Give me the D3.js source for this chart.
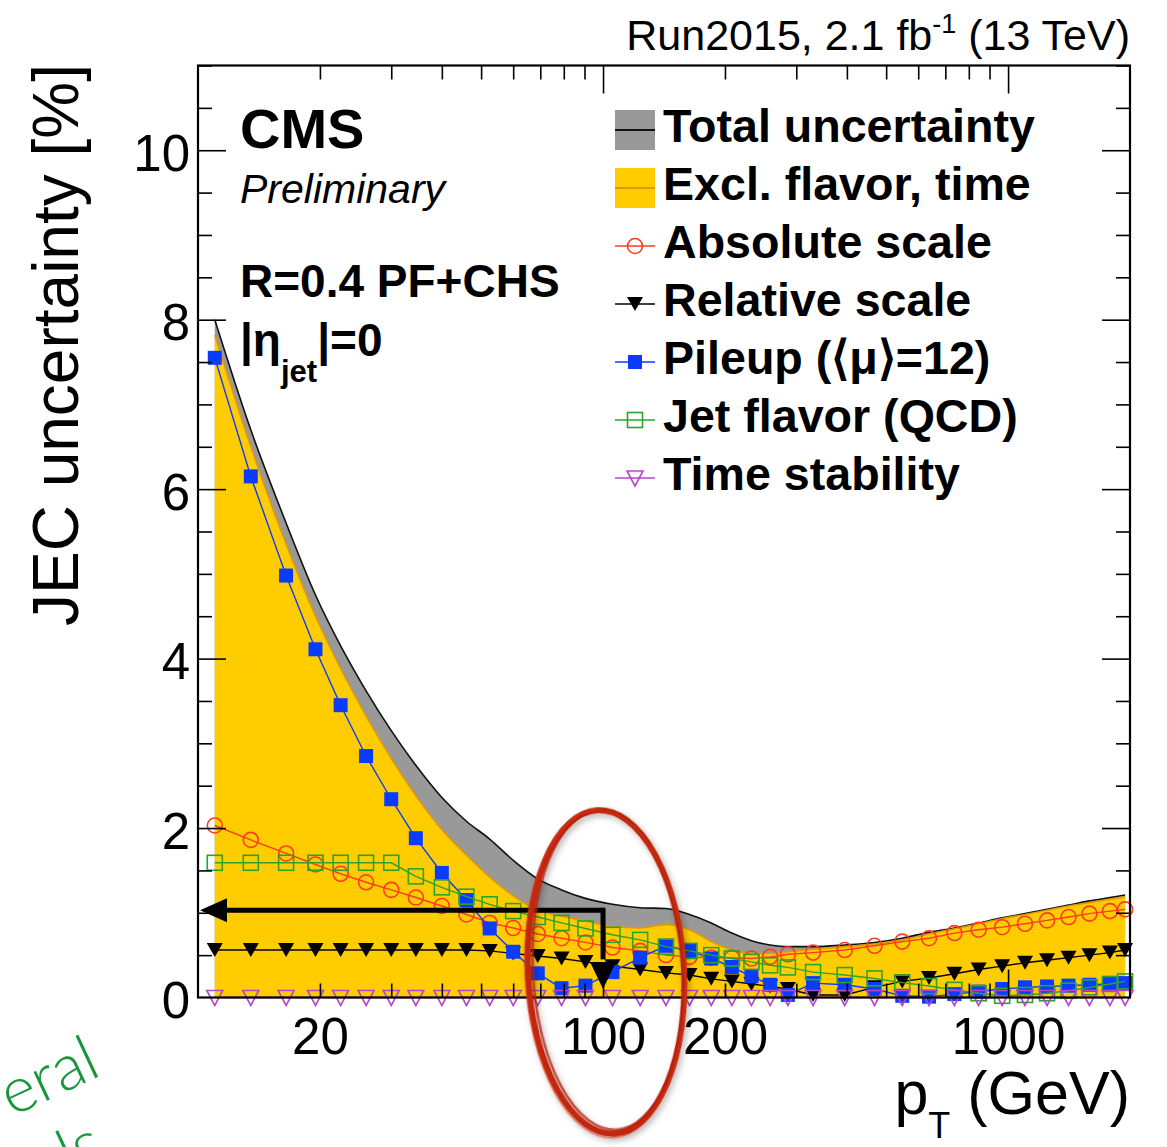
<!DOCTYPE html>
<html><head><meta charset="utf-8">
<script src="https://cdn.jsdelivr.net/npm/d3@7"></script>
<style>body{margin:0;background:#fff} svg{display:block}</style>
</head><body>
<svg id="chart" width="1167" height="1147"></svg>
<script>
// ---------------- data ----------------
const ptBins = [11, 13.5, 16.5, 19.5, 22.5, 26, 30, 34.5, 40, 46, 52.5, 60, 69, 79, 90.5, 105.5, 123.5, 143, 163.5, 185, 208, 232.5, 258.5, 286, 330, 395, 468, 548, 638, 737, 846, 967, 1101, 1248, 1410, 1588, 1784, 1945];
const totalUncertainty = [8.00, 6.70, 5.60, 4.75, 4.15, 3.62, 3.15, 2.74, 2.36, 2.08, 1.87, 1.62, 1.40, 1.27, 1.17, 1.10, 1.06, 1.05, 0.98, 0.88, 0.76, 0.67, 0.62, 0.60, 0.60, 0.62, 0.65, 0.70, 0.77, 0.82, 0.88, 0.94, 0.99, 1.04, 1.09, 1.14, 1.18, 1.21];
const exclFlavorTime = [7.82, 6.50, 5.35, 4.50, 3.88, 3.32, 2.82, 2.38, 1.98, 1.68, 1.42, 1.20, 1.03, 0.96, 0.90, 0.84, 0.82, 0.86, 0.80, 0.66, 0.56, 0.52, 0.52, 0.54, 0.57, 0.60, 0.63, 0.68, 0.75, 0.81, 0.87, 0.93, 0.98, 1.03, 1.08, 1.12, 1.16, 1.19];
const absoluteScale = [2.03, 1.86, 1.70, 1.57, 1.46, 1.36, 1.27, 1.18, 1.08, 0.98, 0.88, 0.82, 0.75, 0.70, 0.65, 0.59, 0.55, 0.50, 0.48, 0.47, 0.47, 0.46, 0.48, 0.51, 0.53, 0.56, 0.61, 0.66, 0.70, 0.76, 0.80, 0.83, 0.87, 0.91, 0.95, 0.99, 1.02, 1.04];
const relativeScale = [0.56, 0.56, 0.56, 0.56, 0.56, 0.56, 0.56, 0.56, 0.56, 0.56, 0.55, 0.52, 0.49, 0.46, 0.42, 0.37, 0.33, 0.29, 0.265, 0.22, 0.19, 0.16, 0.13, 0.10, 0.03, 0.03, 0.12, 0.19, 0.23, 0.28, 0.33, 0.37, 0.41, 0.44, 0.47, 0.50, 0.53, 0.56];
const pileup = [7.55, 6.15, 4.98, 4.11, 3.45, 2.85, 2.34, 1.88, 1.47, 1.15, 0.815, 0.54, 0.285, 0.11, 0.14, 0.30, 0.47, 0.61, 0.55, 0.46, 0.36, 0.25, 0.15, 0.03, 0.17, 0.15, 0.10, 0.02, 0.01, 0.04, 0.07, 0.10, 0.12, 0.13, 0.14, 0.15, 0.16, 0.17];
const jetFlavor = [1.59, 1.59, 1.59, 1.59, 1.59, 1.59, 1.59, 1.43, 1.30, 1.19, 1.10, 1.02, 0.95, 0.88, 0.815, 0.74, 0.68, 0.60, 0.55, 0.50, 0.46, 0.42, 0.38, 0.355, 0.30, 0.265, 0.225, 0.175, 0.135, 0.09, 0.05, 0.02, 0.03, 0.05, 0.08, 0.12, 0.16, 0.19];
const timeStability = [0.0, 0.0, 0.0, 0.0, 0.0, 0.0, 0.0, 0.0, 0.0, 0.0, 0.0, 0.0, 0.0, 0.0, 0.0, 0.0, 0.0, 0.0, 0.0, 0.0, 0.0, 0.0, 0.0, 0.0, 0.0, 0.0, 0.0, 0.0, 0.0, 0.0, 0.0, 0.0, 0.0, 0.0, 0.0, 0.0, 0.0, 0.0];
const xTickLabels = [20, 100, 200, 1000];
const yTickLabels = [0, 2, 4, 6, 8, 10];
const legendLabels = ["Total uncertainty", "Excl. flavor, time", "Absolute scale", "Relative scale", "Pileup (\u27E8\u03BC\u27E9=12)", "Jet flavor (QCD)", "Time stability"];

// ---------------- setup ----------------
const FONT = "'Liberation Sans', Arial, Helvetica, sans-serif";
const svg = d3.select("#chart");
svg.append("rect").attr("width", 1167).attr("height", 1147).attr("fill", "#fff");
const x = d3.scaleLog().domain([10, 2000]).range([198, 1130]);
const y = d3.scaleLinear().domain([0, 11]).range([997.5, 65.5]);

const C = {
  gray: "#999999", yellow: "#ffcc00", orange: "#e39a00",
  red: "#ff3b20", black: "#000000", blue: "#0a3cff", green: "#2aa52a", magenta: "#b04ac8"
};

// ---------------- bands ----------------
const band = d3.area().x((d, i) => x(ptBins[i])).y0(y(0)).y1(d => y(d)).curve(d3.curveMonotoneX);
const bandTop = d3.line().x((d, i) => x(ptBins[i])).y(d => y(d)).curve(d3.curveMonotoneX);
svg.append("path").attr("d", band(totalUncertainty)).attr("fill", C.gray);
svg.append("path").attr("d", bandTop(totalUncertainty)).attr("fill", "none").attr("stroke", "#111").attr("stroke-width", 1.6);
svg.append("path").attr("d", band(exclFlavorTime)).attr("fill", C.yellow);
svg.append("path").attr("d", bandTop(exclFlavorTime)).attr("fill", "none").attr("stroke", C.orange).attr("stroke-width", 1.6);

// ---------------- markers ----------------
function marker(g, type, color) {
  if (type === "circle") g.append("circle").attr("r", 7.5).attr("fill", "none").attr("stroke", color).attr("stroke-width", 1.6);
  else if (type === "triDownFilled") g.append("path").attr("d", "M-8,-7L8,-7L0,7Z").attr("fill", color);
  else if (type === "squareFilled") g.append("rect").attr("x", -7).attr("y", -7).attr("width", 14).attr("height", 14).attr("fill", color);
  else if (type === "squareOpen") g.append("rect").attr("x", -7.5).attr("y", -7.5).attr("width", 15).attr("height", 15).attr("fill", "none").attr("stroke", color).attr("stroke-width", 1.6);
  else if (type === "triDownOpen") g.append("path").attr("d", "M-8,-7L8,-7L0,8Z").attr("fill", "none").attr("stroke", color).attr("stroke-width", 1.6);
}

const seriesList = [
  { values: absoluteScale, color: C.red, type: "circle" },
  { values: relativeScale, color: C.black, type: "triDownFilled" },
  { values: pileup, color: C.blue, type: "squareFilled" },
  { values: jetFlavor, color: C.green, type: "squareOpen" },
  { values: timeStability, color: C.magenta, type: "triDownOpen" }
];
const seriesLine = d3.line().x((d, i) => x(ptBins[i])).y(d => y(d));
seriesList.forEach(s => {
  const g = svg.append("g");
  g.append("path").attr("d", seriesLine(s.values)).attr("fill", "none").attr("stroke", s.color).attr("stroke-width", 1.4);
  s.values.forEach((v, i) => {
    const m = g.append("g").attr("transform", `translate(${x(ptBins[i])},${y(v)})`);
    marker(m, s.type, s.color);
  });
});

// ---------------- frame & ticks ----------------
const minorX = [20, 30, 40, 50, 60, 70, 80, 90, 200, 300, 400, 500, 600, 700, 800, 900];
const majorX = [100, 1000];
const yMinor = d3.range(0, 11.01, 0.5).filter(v => v % 2 !== 0);
const yMajor = [2, 4, 6, 8, 10];
function tickAxis(axisGen, tx, ty) {
  const g = svg.append("g").attr("transform", `translate(${tx},${ty})`).call(axisGen);
  g.select(".domain").remove();
  g.selectAll("line").attr("stroke", "#000").attr("stroke-width", 1.6);
  g.selectAll("text").remove();
  return g;
}
tickAxis(d3.axisBottom(x).tickValues(minorX).tickSize(-14), 0, y(0));
tickAxis(d3.axisBottom(x).tickValues(majorX).tickSize(-28), 0, y(0));
tickAxis(d3.axisTop(x).tickValues(minorX).tickSize(-14), 0, y(11));
tickAxis(d3.axisTop(x).tickValues(majorX).tickSize(-28), 0, y(11));
tickAxis(d3.axisLeft(y).tickValues(yMinor).tickSize(-14), x(10), 0);
tickAxis(d3.axisLeft(y).tickValues(yMajor).tickSize(-28), x(10), 0);
tickAxis(d3.axisRight(y).tickValues(yMinor).tickSize(-14), x(2000), 0);
tickAxis(d3.axisRight(y).tickValues(yMajor).tickSize(-28), x(2000), 0);
svg.append("rect").attr("x", x(10)).attr("y", y(11)).attr("width", x(2000) - x(10)).attr("height", y(0) - y(11))
  .attr("fill", "none").attr("stroke", "#000").attr("stroke-width", 2.2);

// tick labels
const xl = svg.append("g").attr("transform", `translate(0,${y(0)})`)
  .call(d3.axisBottom(x).tickValues(xTickLabels).tickSize(0).tickFormat(d3.format("d")));
xl.select(".domain").remove();
xl.selectAll("text").attr("y", 56).attr("dy", 0).attr("font-family", FONT).attr("font-size", 51).attr("fill", "#000");
const yl = svg.append("g").attr("transform", `translate(${x(10)},0)`)
  .call(d3.axisLeft(y).tickValues(yTickLabels).tickSize(0).tickFormat(d3.format("d")));
yl.select(".domain").remove();
yl.selectAll("text").attr("x", -8).attr("dy", 20).attr("font-family", FONT).attr("font-size", 51).attr("fill", "#000");

// ---------------- titles ----------------
svg.append("text").attr("transform", "translate(78,64) rotate(-90)").attr("text-anchor", "end")
  .attr("font-family", FONT).attr("font-size", 64).text("JEC uncertainty [%]");
const xt = svg.append("text").attr("x", 1130).attr("y", 1114).attr("text-anchor", "end").attr("font-family", FONT).attr("font-size", 61);
xt.append("tspan").text("p");
xt.append("tspan").attr("dy", 24).attr("font-size", 36).text("T");
xt.append("tspan").attr("dy", -24).text(" (GeV)");
const tl = svg.append("text").attr("x", 1130).attr("y", 50).attr("text-anchor", "end").attr("font-family", FONT).attr("font-size", 43);
tl.append("tspan").text("Run2015, 2.1 fb");
tl.append("tspan").attr("dy", -17).attr("font-size", 27).text("-1");
tl.append("tspan").attr("dy", 17).text(" (13 TeV)");

svg.append("text").attr("x", 240).attr("y", 148).attr("font-family", FONT).attr("font-weight", "bold").attr("font-size", 56).text("CMS");
svg.append("text").attr("x", 240).attr("y", 203).attr("font-family", FONT).attr("font-style", "italic").attr("font-size", 41).text("Preliminary");
svg.append("text").attr("x", 240).attr("y", 297).attr("font-family", FONT).attr("font-weight", "bold").attr("font-size", 46).text("R=0.4 PF+CHS");
const eta = svg.append("text").attr("x", 240).attr("y", 356).attr("font-family", FONT).attr("font-weight", "bold").attr("font-size", 46);
eta.append("tspan").text("|\u03B7");
eta.append("tspan").attr("dy", 26).attr("font-size", 31).text("jet");
eta.append("tspan").attr("dy", -26).text("|=0");

// ---------------- legend ----------------
const legendKinds = [
  { box: C.gray, line: "#111" },
  { box: C.yellow, line: C.orange },
  { series: 0 }, { series: 1 }, { series: 2 }, { series: 3 }, { series: 4 }
];
legendLabels.forEach((lab, i) => {
  const cy = 130 + i * 58;
  const k = legendKinds[i];
  const g = svg.append("g");
  if (k.box) {
    g.append("rect").attr("x", 615).attr("y", cy - 20).attr("width", 40).attr("height", 40).attr("fill", k.box);
    g.append("line").attr("x1", 615).attr("x2", 655).attr("y1", cy).attr("y2", cy).attr("stroke", k.line).attr("stroke-width", 1.8);
  } else {
    const s = seriesList[k.series];
    g.append("line").attr("x1", 615).attr("x2", 655).attr("y1", cy).attr("y2", cy).attr("stroke", s.color).attr("stroke-width", 1.4);
    marker(g.append("g").attr("transform", `translate(635,${cy})`), s.type, s.color);
  }
  g.append("text").attr("x", 663).attr("y", cy + 12).attr("font-family", FONT).attr("font-weight", "bold").attr("font-size", 46.6).text(lab);
});

// ---------------- annotations ----------------
const ay = y(1.03), ax = x(100);
const ann = svg.append("g");
ann.append("line").attr("x1", x(10) + 25).attr("x2", ax).attr("y1", ay).attr("y2", ay).attr("stroke", "#000").attr("stroke-width", 5);
ann.append("path").attr("d", `M${x(10) + 2},${ay}L${x(10) + 29},${ay - 12}L${x(10) + 29},${ay + 12}Z`).attr("fill", "#000");
ann.append("line").attr("x1", ax).attr("x2", ax).attr("y1", ay - 2.5).attr("y2", y(0.45)).attr("stroke", "#000").attr("stroke-width", 5);
ann.append("path").attr("d", `M${ax - 13},${y(0.42)}L${ax + 13},${y(0.42)}L${ax},${y(0.1)}Z`).attr("fill", "#000");

const defs = svg.append("defs");
const f = defs.append("filter").attr("id", "shadow").attr("x", "-20%").attr("y", "-20%").attr("width", "140%").attr("height", "140%");
f.append("feDropShadow").attr("dx", 2).attr("dy", 3).attr("stdDeviation", 3).attr("flood-color", "#000").attr("flood-opacity", 0.3);
const ell = svg.append("g").attr("filter", "url(#shadow)").attr("transform", "translate(606,972) rotate(-3)");
ell.append("ellipse").attr("rx", 78).attr("ry", 162).attr("fill", "none").attr("stroke", "#c4280f").attr("stroke-width", 6);
ell.append("ellipse").attr("cx", 2).attr("cy", -2).attr("rx", 75).attr("ry", 160).attr("fill", "none").attr("stroke", "#b02010").attr("stroke-width", 2.5).attr("opacity", 0.75);
ell.append("ellipse").attr("cx", -1).attr("cy", 2).attr("rx", 80).attr("ry", 164).attr("fill", "none").attr("stroke", "#d0351a").attr("stroke-width", 1.5).attr("opacity", 0.6);

const GFONT = "Lato, 'Open Sans', 'Liberation Sans', sans-serif";
svg.append("text").attr("transform", "translate(12,1117) rotate(-25)").attr("font-family", GFONT).attr("font-weight", 300)
  .attr("font-size", 64).attr("fill", "#17963b").text("eral");
svg.append("text").attr("transform", "translate(70,1176) rotate(-25)").attr("font-family", GFONT).attr("font-weight", 300)
  .attr("font-size", 64).attr("fill", "#17963b").text("ls");
</script>
</body></html>
